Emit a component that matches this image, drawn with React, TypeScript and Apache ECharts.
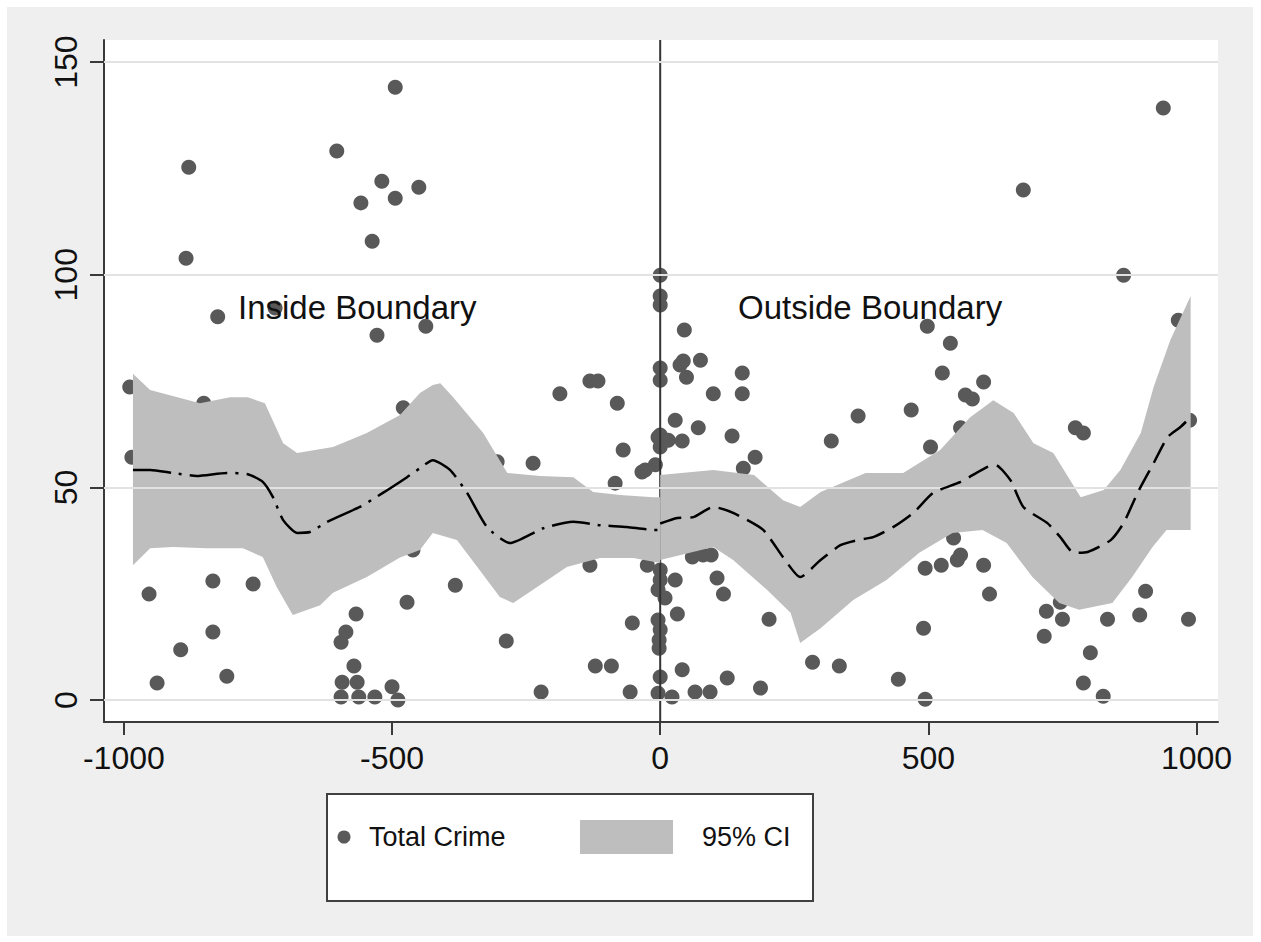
import React, { useEffect, useRef } from "react";
import * as echarts from "echarts";

// ---------- data ----------
const xTicks = [-1000, -500, 0, 500, 1000];
const yTicks = [0, 50, 100, 150];
const cutoff = 0;

const crimePoints: [number, number][] = [
  [-989, 73.6], [-985, 57.1], [-879, 125.3], [-884, 103.9], [-603, 129.1], [-494, 144.1],
  [-519, 122.0], [-494, 118.0], [-558, 116.9], [-537, 107.9], [-450, 120.6], [-825, 90.1],
  [-718, 92.2], [-528, 85.8], [-437, 87.9], [-851, 69.8], [-479, 68.7], [-461, 35.3],
  [-953, 24.9], [-834, 28.0], [-759, 27.3], [-567, 20.2], [-472, 23.0], [-938, 4.0],
  [-894, 11.8], [-834, 16.0], [-808, 5.6], [-586, 16.0], [-595, 13.6], [-571, 8.0],
  [-593, 4.2], [-565, 4.2], [-595, 0.7], [-562, 0.7], [-532, 0.7], [-500, 3.1],
  [-489, 0.0], [-382, 27.0], [-304, 56.0], [-237, 55.7], [-187, 72.0], [-131, 75.0],
  [-116, 75.0], [-80, 69.8], [-69, 58.8], [-84, 51.0], [-34, 53.6], [-9, 55.3],
  [-28, 54.1], [-131, 31.7], [-24, 31.7], [-287, 13.9], [-222, 1.9], [-121, 8.0],
  [-91, 8.0], [-52, 18.1], [-56, 1.9], [-4, 61.8],
  [0, 99.9], [0, 95.0], [0, 92.9], [0, 78.1], [0, 75.2], [0, 62.3], [0, 59.5],
  [0, 30.6], [-4, 25.9], [9, 24.0], [-4, 18.8], [0, 16.5], [-2, 14.1], [-2, 12.2],
  [0, 5.4], [-4, 1.6], [0, 28.2],
  [45, 87.0], [43, 79.7], [37, 78.8], [75, 79.9], [49, 75.9], [99, 72.0], [153, 76.9],
  [153, 72.0], [28, 65.8], [71, 64.0], [134, 62.1], [15, 61.1], [41, 60.9], [177, 57.1],
  [155, 54.5], [28, 28.2], [60, 33.6], [80, 34.1], [95, 34.1], [106, 28.7], [118, 24.9],
  [32, 20.2], [41, 7.1], [125, 5.2], [22, 0.7], [65, 1.9], [93, 1.9], [187, 2.8],
  [203, 19.0], [284, 8.9], [334, 8.0], [319, 60.9], [369, 66.8], [468, 68.2], [498, 87.9],
  [541, 83.9], [526, 76.9], [603, 74.8], [569, 71.7], [582, 70.8], [560, 64.0], [504, 59.5],
  [774, 64.0], [789, 62.8], [966, 89.3], [987, 65.8], [547, 38.1], [494, 31.0], [524, 31.7],
  [560, 34.1], [554, 32.9], [603, 31.7], [614, 24.9], [905, 25.6], [746, 23.0], [720, 20.9],
  [750, 19.0], [716, 15.0], [834, 19.0], [894, 20.0], [985, 19.0], [802, 11.1], [789, 4.0],
  [826, 0.9], [491, 16.9], [444, 4.9], [494, 0.2], [938, 139.2], [677, 119.9], [864, 99.9],
];

const leftFit: [number, number][] = [
  [-983, 54.1], [-951, 54.1], [-909, 53.4], [-864, 52.7], [-808, 53.4], [-769, 53.1],
  [-741, 51.3], [-722, 47.7], [-703, 42.3], [-677, 39.3], [-653, 39.5], [-621, 41.9],
  [-560, 45.4], [-517, 48.7], [-472, 52.4], [-448, 54.5], [-424, 56.4], [-392, 54.1],
  [-360, 48.7], [-323, 40.7], [-280, 36.9], [-218, 40.4], [-162, 41.9], [-112, 41.1],
  [-62, 40.7], [-13, 40.0], [0, 40.0],
];
const leftUpper: [number, number][] = [
  [-983, 76.7], [-951, 72.9], [-858, 69.8], [-802, 71.2], [-769, 71.2], [-737, 69.8],
  [-703, 60.4], [-677, 58.1], [-610, 59.5], [-547, 62.8], [-485, 67.0], [-448, 72.2],
  [-424, 74.1], [-410, 74.5], [-386, 71.2], [-330, 62.8], [-285, 53.4], [-224, 52.7],
  [-162, 52.4], [-125, 48.9], [-75, 48.2], [-13, 47.7], [0, 47.7],
];
const leftLower: [number, number][] = [
  [-983, 31.7], [-951, 35.7], [-909, 36.0], [-845, 35.7], [-778, 35.7], [-741, 33.6],
  [-715, 26.6], [-685, 20.0], [-634, 22.3], [-610, 25.2], [-547, 28.9], [-485, 33.5],
  [-448, 35.3], [-424, 39.3], [-379, 37.6], [-341, 31.3], [-299, 24.2], [-274, 22.8],
  [-237, 25.9], [-174, 31.3], [-112, 33.4], [-50, 33.4], [0, 32.2],
];

const rightFit: [number, number][] = [
  [0, 41.5], [32, 42.8], [62, 43.0], [99, 45.4], [136, 44.0], [192, 40.0], [229, 33.6],
  [261, 28.9], [299, 32.9], [336, 36.4], [368, 37.6], [397, 38.3], [435, 40.7], [472, 44.0],
  [509, 48.7], [560, 51.3], [610, 54.8], [625, 55.3], [653, 51.7], [677, 45.4], [722, 41.6],
  [746, 38.3], [771, 34.6], [797, 34.8], [840, 37.6], [864, 41.6], [890, 48.7], [920, 55.7],
  [946, 61.8], [970, 64.2], [989, 66.5],
];
const rightUpper: [number, number][] = [
  [0, 52.9], [99, 54.1], [175, 52.9], [229, 47.0], [261, 45.4], [299, 48.9], [383, 53.4],
  [453, 53.4], [522, 58.8], [578, 66.5], [621, 70.5], [659, 67.5], [696, 60.4], [733, 58.1],
  [784, 47.7], [827, 49.4], [858, 54.1], [896, 62.8], [920, 73.6], [951, 84.6], [989, 95.0],
];
const rightLower: [number, number][] = [
  [0, 32.9], [99, 36.0], [136, 32.9], [199, 25.9], [243, 20.5], [261, 13.4], [299, 16.9],
  [360, 23.5], [422, 28.2], [483, 34.6], [545, 39.3], [601, 40.0], [646, 36.9], [694, 28.9],
  [744, 22.8], [781, 21.2], [843, 22.8], [880, 28.9], [918, 36.0], [944, 40.0], [989, 40.0],
];

// ---------- styles ----------
const FONT = "'Liberation Sans', Arial, Helvetica, sans-serif";
const AXIS_COLOR = "#3a3a3a";
const DOT_COLOR = "#595959";
const BAND_COLOR = "#bebebe";
const X_MIN = -1037;
const X_MAX = 1040;
const Y_MIN = -5.17;
const Y_MAX = 155.2;

function bandSeries(name: string, upper: [number, number][], lower: [number, number][]) {
  return {
    type: "custom",
    name,
    z: 4,
    silent: true,
    data: upper,
    renderItem: (params: any, api: any) => {
      if (params.dataIndex !== 0) return null;
      const pts = [
        ...upper.map((p) => api.coord(p)),
        ...lower.slice().reverse().map((p) => api.coord(p)),
      ];
      return {
        type: "polygon",
        shape: { points: pts },
        style: { fill: BAND_COLOR, stroke: null },
      };
    },
  };
}

export default function App() {
  const ref = useRef<HTMLDivElement>(null);
  useEffect(() => {
    const chart = echarts.init(ref.current!, null, { renderer: "svg" });
    const option: any = {
      animation: false,
      textStyle: { fontFamily: FONT },
      grid: {
        left: 104,
        top: 40,
        width: 1114,
        height: 682,
        show: true,
        backgroundColor: "#ffffff",
        borderWidth: 0,
      },
      xAxis: {
        type: "value",
        min: X_MIN,
        max: X_MAX,
        axisLine: { show: true, onZero: false, lineStyle: { color: AXIS_COLOR, width: 2 } },
        axisTick: { show: true, length: 13, customValues: xTicks, lineStyle: { color: AXIS_COLOR, width: 2 } },
        axisLabel: {
          customValues: xTicks,
          fontSize: 32,
          color: "#111",
          margin: 20,
          fontFamily: FONT,
          formatter: (v: number) => String(v),
        },
        splitLine: { show: false },
      },
      yAxis: {
        type: "value",
        min: Y_MIN,
        max: Y_MAX,
        axisLine: { show: true, onZero: false, lineStyle: { color: AXIS_COLOR, width: 2 } },
        axisTick: { show: true, length: 14, customValues: yTicks, lineStyle: { color: AXIS_COLOR, width: 2 } },
        axisLabel: {
          customValues: yTicks,
          rotate: 90,
          fontSize: 32,
          color: "#111",
          margin: 22,
          fontFamily: FONT,
          formatter: (v: number) => String(v),
        },
        splitLine: { show: false },
      },
      series: [
        {
          type: "line",
          name: "grid",
          data: [],
          silent: true,
          z: 1,
          markLine: {
            silent: true,
            symbol: "none",
            label: { show: false },
            lineStyle: { color: "#e2e2e2", width: 2, type: "solid" },
            data: yTicks.map((v) => ({ yAxis: v })),
          },
        },
        {
          type: "scatter",
          name: "Total Crime",
          data: crimePoints,
          symbolSize: 15,
          itemStyle: { color: DOT_COLOR, opacity: 1 },
          z: 2,
        },
        {
          type: "line",
          name: "cutoff",
          data: [[cutoff, Y_MIN], [cutoff, Y_MAX]],
          symbol: "none",
          showSymbol: false,
          lineStyle: { color: "#333", width: 2 },
          z: 3,
          silent: true,
        },
        bandSeries("95% CI left", leftUpper, leftLower),
        bandSeries("95% CI right", rightUpper, rightLower),
        {
          type: "line",
          name: "fit left",
          data: leftFit,
          symbol: "none",
          showSymbol: false,
          smooth: 0.2,
          lineStyle: { color: "#000", width: 2.5, type: [38, 8, 3, 8] },
          z: 5,
          silent: true,
        },
        {
          type: "line",
          name: "fit right",
          data: rightFit,
          symbol: "none",
          showSymbol: false,
          smooth: 0.2,
          lineStyle: { color: "#000", width: 2.5, type: [22, 9] },
          z: 5,
          silent: true,
        },
      ],
      graphic: [
        {
          type: "text",
          x: 238,
          y: 307,
          z: 100,
          style: { text: "Inside Boundary", fontSize: 33, fontFamily: FONT, fill: "#111", verticalAlign: "middle", align: "left" },
        },
        {
          type: "text",
          x: 738,
          y: 307,
          z: 100,
          style: { text: "Outside Boundary", fontSize: 33, fontFamily: FONT, fill: "#111", verticalAlign: "middle", align: "left" },
        },
        {
          type: "rect",
          z: 100,
          shape: { x: 327, y: 794, width: 486, height: 107 },
          style: { fill: "#ffffff", stroke: "#404040", lineWidth: 2 },
        },
        {
          type: "circle",
          z: 101,
          shape: { cx: 344, cy: 837, r: 6.5 },
          style: { fill: DOT_COLOR },
        },
        {
          type: "text",
          x: 369,
          y: 837,
          z: 101,
          style: { text: "Total Crime", fontSize: 27, fontFamily: FONT, fill: "#111", verticalAlign: "middle", align: "left" },
        },
        {
          type: "rect",
          z: 101,
          shape: { x: 580, y: 820, width: 93, height: 34 },
          style: { fill: BAND_COLOR },
        },
        {
          type: "text",
          x: 702,
          y: 837,
          z: 101,
          style: { text: "95% CI", fontSize: 27, fontFamily: FONT, fill: "#111", verticalAlign: "middle", align: "left" },
        },
      ],
    };
    chart.setOption(option);
    return () => chart.dispose();
  }, []);

  return (
    <div style={{ position: "absolute", left: 0, top: 0, width: 1261, height: 942, background: "#ffffff" }}>
      <div style={{ position: "absolute", left: 7, top: 7, width: 1246, height: 929, background: "#efefef" }} />
      <div ref={ref} style={{ position: "absolute", left: 0, top: 0, width: 1261, height: 942 }} />
    </div>
  );
}
